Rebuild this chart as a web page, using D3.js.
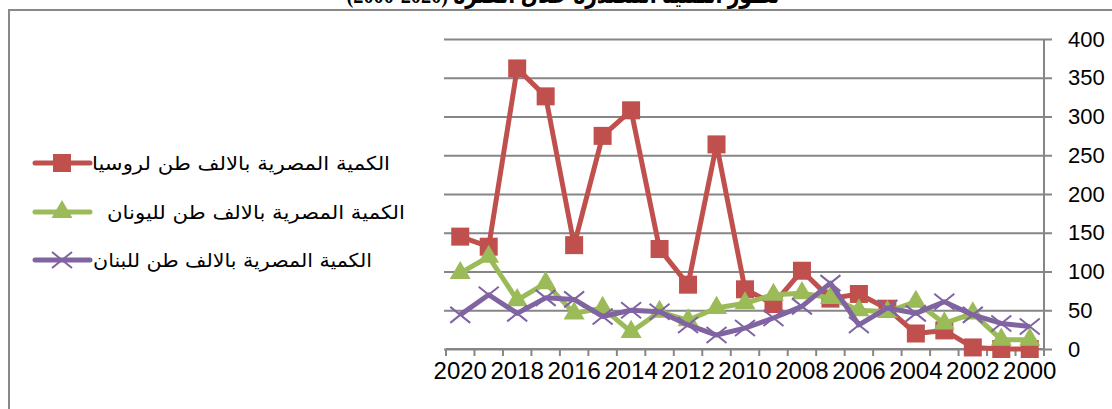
<!DOCTYPE html>
<html>
<head>
<meta charset="utf-8">
<script src="https://cdn.jsdelivr.net/npm/d3@7"></script>
<style>
  body { margin: 0; background: #fff; }
  svg { display: block; }
</style>
</head>
<body>
<div id="chart"></div>
<script>
// years, drawn newest on the left like the source sheet
const years = [2020, 2019, 2018, 2017, 2016, 2015, 2014, 2013, 2012, 2011, 2010,
               2009, 2008, 2007, 2006, 2005, 2004, 2003, 2002, 2001, 2000];
const yearLabels = [2020, 2018, 2016, 2014, 2012, 2010, 2008, 2006, 2004, 2002, 2000];
const yTicks = [0, 50, 100, 150, 200, 250, 300, 350, 400];

const russia  = [145, 132, 362, 326, 134, 275, 308, 129, 83, 264, 77,
                 58, 101, 65, 71, 52, 20, 24, 2, 0, 0];
const greece  = [98, 119, 63, 85, 46, 53, 22, 48, 37, 53, 59,
                 70, 72, 66, 50, 48, 61, 33, 46, 12, 12];
const lebanon = [44, 70, 46, 66, 64, 42, 50, 48, 31, 18, 27,
                 40, 55, 85, 31, 53, 46, 61, 44, 33, 29];

const seriesNames = [
  "الكمية المصرية  بالالف طن لروسيا",
  "الكمية المصرية  بالالف طن لليونان",
  "الكمية المصرية بالالف طن للبنان"
];

const W = 1112, H = 409;
const svg = d3.select("#chart").append("svg").attr("width", W).attr("height", H);

// outer chart frame (runs off the right and bottom of the picture)
svg.append("rect")
  .attr("x", 9).attr("y", 10)
  .attr("width", W + 20).attr("height", H + 20)
  .attr("fill", "none").attr("stroke", "#888").attr("stroke-width", 2);

// title, only its lower edge shows at the top of the picture
svg.append("text")
  .attr("x", 563).attr("y", 3)
  .attr("text-anchor", "middle")
  .attr("direction", "rtl")
  .attr("font-family", "'Liberation Serif', 'DejaVu Sans', serif")
  .attr("font-weight", "bold")
  .attr("font-size", 24)
  .attr("textLength", 433)
  .attr("lengthAdjust", "spacingAndGlyphs")
  .text("تطور الكمية المصدرة خلال الفترة (2020-2000)");

const x = d3.scaleBand().domain(years).range([446, 1044]).padding(0);
const y = d3.scaleLinear().domain([0, 400]).range([349, 39]);
const cx = d => x(d) + x.bandwidth() / 2;

// gridlines
svg.append("g")
  .attr("transform", "translate(1052,0)")
  .call(d3.axisLeft(y).tickValues(yTicks).tickSize(1052 - 444).tickFormat(""))
  .call(g => g.select(".domain").remove())
  .call(g => g.selectAll("line").attr("stroke", "#868686").attr("stroke-width", 2));

// right value axis
svg.append("line")
  .attr("x1", 1044).attr("x2", 1044).attr("y1", y(400)).attr("y2", y(0))
  .attr("stroke", "#868686").attr("stroke-width", 2);

svg.append("g")
  .attr("transform", "translate(1052,0)")
  .call(d3.axisRight(y).tickValues(yTicks).tickSize(0).tickPadding(16))
  .call(g => g.select(".domain").remove())
  .call(g => g.selectAll("text")
    .attr("font-family", "'Liberation Sans', Arial, sans-serif")
    .attr("font-size", 22).attr("fill", "#000"));

// bottom category axis
svg.append("line")
  .attr("x1", 446).attr("x2", 1044).attr("y1", y(0)).attr("y2", y(0))
  .attr("stroke", "#868686").attr("stroke-width", 2);

svg.append("g").selectAll("line")
  .data(years.map(d => x(d)).concat([1044]))
  .join("line")
  .attr("x1", d => d).attr("x2", d => d)
  .attr("y1", y(0)).attr("y2", y(0) + 7)
  .attr("stroke", "#868686").attr("stroke-width", 2);

svg.append("g")
  .attr("transform", `translate(0,${y(0)})`)
  .call(d3.axisBottom(x).tickValues(yearLabels).tickSize(0).tickPadding(13))
  .call(g => g.select(".domain").remove())
  .call(g => g.selectAll("text")
    .attr("font-family", "'Liberation Sans', Arial, sans-serif")
    .attr("font-size", 24).attr("fill", "#000"));

// series
const series = [
  { name: seriesNames[0], values: russia,  color: "#C0504D", marker: "square" },
  { name: seriesNames[1], values: greece,  color: "#9BBB59", marker: "triangle" },
  { name: seriesNames[2], values: lebanon, color: "#8064A2", marker: "x" }
];

const line = d3.line().x((d, i) => cx(years[i])).y(d => y(d));

function drawMarker(g, type, color) {
  if (type === "square") {
    g.append("rect").attr("x", -9).attr("y", -9).attr("width", 18).attr("height", 18)
      .attr("fill", color);
  } else if (type === "triangle") {
    g.append("path").attr("d", d3.symbol(d3.symbolTriangle, 190)())
      .attr("fill", color);
  } else {
    g.append("path").attr("d", "M-10,-8L10,8M-10,8L10,-8")
      .attr("stroke", color).attr("stroke-width", 2).attr("fill", "none");
  }
}

series.forEach(s => {
  const g = svg.append("g");
  g.append("path")
    .attr("d", line(s.values))
    .attr("fill", "none")
    .attr("stroke", s.color)
    .attr("stroke-width", 5)
    .attr("stroke-linejoin", "round");
  s.values.forEach((v, i) => {
    const m = g.append("g").attr("transform", `translate(${cx(years[i])},${y(v)})`);
    drawMarker(m, s.marker, s.color);
  });
});

// legend
const legendRows = [
  { y: 163, textX: 92, textW: 298 },
  { y: 212, textX: 107, textW: 298 },
  { y: 260, textX: 93, textW: 279 }
];

series.forEach((s, i) => {
  const r = legendRows[i];
  const g = svg.append("g").attr("transform", `translate(0,${r.y})`);
  g.append("line").attr("x1", 35).attr("x2", 90).attr("y1", 0).attr("y2", 0)
    .attr("stroke", s.color).attr("stroke-width", 5).attr("stroke-linecap", "round");
  const m = g.append("g").attr("transform", "translate(62,0)");
  drawMarker(m, s.marker, s.color);
  g.append("text")
    .attr("x", r.textX + r.textW).attr("y", 7)
    .attr("text-anchor", "end")
    .attr("font-family", "'DejaVu Sans', sans-serif")
    .attr("font-size", 19)
    .attr("textLength", r.textW)
    .attr("lengthAdjust", "spacingAndGlyphs")
    .attr("fill", "#000")
    .text(s.name);
});
</script>
</body>
</html>
